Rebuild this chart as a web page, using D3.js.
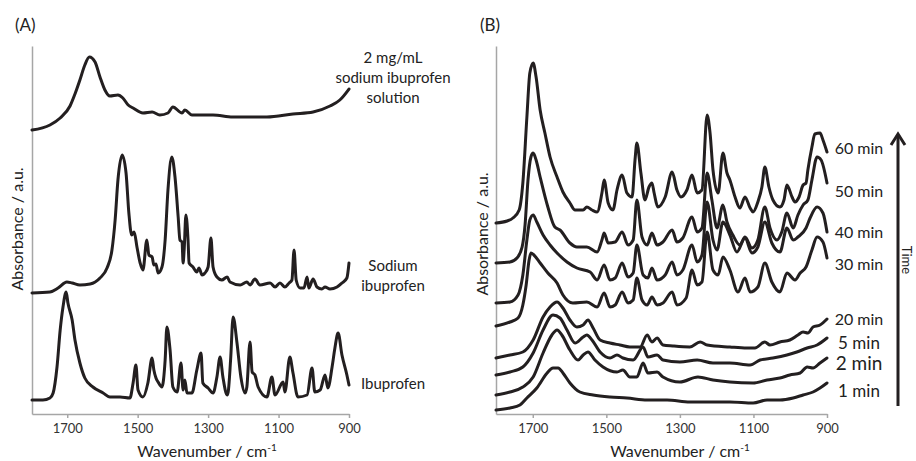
<!DOCTYPE html>
<html>
<head>
<meta charset="utf-8">
<script src="https://cdn.jsdelivr.net/npm/d3@7/dist/d3.min.js"></script>
<style>
    body { margin: 0; background: #fff; }
    svg { display: block; font-family: Lato, "Open Sans", sans-serif; }
</style>
</head>
<body>
<svg id="chart" width="916" height="461"></svg>
<script>
// wavenumber (cm-1), absorbance (a.u., stacked offsets as plotted)
var xTicks = [1700, 1500, 1300, 1100, 900]

// panel A
var solution2mg = [[1800,2.84],[1749,2.89],[1720,2.96],[1692,3.08],[1678,3.2],[1664,3.34],[1650,3.49],[1637,3.57],[1621,3.52],[1607,3.37],[1593,3.24],[1579,3.18],[1556,3.19],[1542,3.16],[1527,3.09],[1513,3.06],[1485,3.01],[1459,3.02],[1437,2.99],[1414,3.01],[1400,3.07],[1374,3.01],[1366,3.04],[1346,2.99],[1286,2.99],[1230,2.97],[1133,2.97],[1059,3.00],[1002,3.02],[954,3.08],[926,3.14],[900,3.25]]
var sodiumIbuprofen = [[1800,1.21],[1749,1.22],[1726,1.26],[1701,1.32],[1686,1.31],[1664,1.29],[1635,1.30],[1607,1.36],[1587,1.46],[1573,1.64],[1564,1.94],[1556,2.34],[1544,2.59],[1533,2.41],[1525,2.01],[1517,1.79],[1510,1.82],[1502,1.67],[1493,1.51],[1485,1.44],[1474,1.74],[1468,1.59],[1459,1.57],[1454,1.49],[1448,1.50],[1442,1.41],[1431,1.47],[1422,1.74],[1414,2.24],[1403,2.57],[1394,2.37],[1385,1.97],[1380,1.74],[1374,1.72],[1371,1.51],[1368,1.64],[1363,1.99],[1357,1.74],[1354,1.51],[1343,1.47],[1332,1.42],[1326,1.46],[1317,1.39],[1309,1.41],[1300,1.47],[1292,1.76],[1286,1.47],[1275,1.37],[1261,1.34],[1246,1.37],[1238,1.32],[1209,1.29],[1190,1.32],[1181,1.29],[1167,1.35],[1153,1.29],[1124,1.31],[1110,1.27],[1096,1.31],[1082,1.27],[1070,1.31],[1062,1.34],[1056,1.64],[1050,1.34],[1039,1.26],[1028,1.26],[1019,1.37],[1014,1.26],[1002,1.35],[991,1.27],[977,1.25],[968,1.27],[954,1.25],[934,1.27],[920,1.31],[906,1.36],[900,1.51]]
var ibuprofen = [[1800,0.14],[1769,0.14],[1749,0.16],[1740,0.21],[1729,0.47],[1720,0.84],[1712,1.07],[1703,1.22],[1698,1.11],[1686,0.94],[1678,0.74],[1664,0.51],[1650,0.36],[1627,0.27],[1598,0.21],[1579,0.17],[1550,0.17],[1522,0.16],[1513,0.31],[1505,0.49],[1499,0.24],[1485,0.17],[1471,0.31],[1459,0.56],[1454,0.44],[1448,0.36],[1442,0.32],[1431,0.27],[1422,0.54],[1417,0.87],[1408,0.64],[1400,0.27],[1388,0.22],[1377,0.51],[1371,0.24],[1366,0.34],[1360,0.21],[1346,0.21],[1332,0.44],[1320,0.61],[1315,0.31],[1300,0.26],[1286,0.21],[1275,0.37],[1266,0.57],[1258,0.37],[1246,0.19],[1243,0.22],[1236,0.55],[1229,0.97],[1218,0.71],[1207,0.37],[1195,0.21],[1190,0.27],[1181,0.72],[1175,0.42],[1167,0.39],[1158,0.27],[1133,0.17],[1119,0.37],[1110,0.19],[1087,0.32],[1082,0.22],[1068,0.57],[1059,0.41],[1045,0.17],[1019,0.19],[1005,0.46],[997,0.22],[982,0.24],[968,0.39],[960,0.26],[948,0.47],[940,0.66],[931,0.81],[920,0.59],[906,0.39],[900,0.29]]
var labelsA = [["2 mg/mL", "sodium ibuprofen", "solution"], ["Sodium", "ibuprofen"], ["Ibuprofen"]]

// panel B
var t60 = [[1800,1.91],[1770,1.93],[1754,1.96],[1737,2.04],[1727,2.31],[1716,2.97],[1708,3.41],[1699,3.51],[1691,3.37],[1680,3.04],[1667,2.81],[1653,2.57],[1634,2.37],[1618,2.22],[1599,2.11],[1585,2.04],[1563,2.04],[1553,2.07],[1539,2.04],[1525,2.02],[1512,2.21],[1506,2.34],[1495,2.11],[1482,2.04],[1471,2.24],[1457,2.39],[1444,2.21],[1430,2.17],[1422,2.54],[1417,2.71],[1406,2.41],[1395,2.14],[1384,2.27],[1376,2.31],[1370,2.21],[1360,2.07],[1340,2.17],[1321,2.42],[1308,2.24],[1297,2.17],[1281,2.24],[1267,2.39],[1253,2.21],[1240,2.24],[1226,2.99],[1218,2.81],[1210,2.44],[1196,2.21],[1183,2.61],[1172,2.41],[1164,2.34],[1150,2.17],[1137,2.06],[1123,2.17],[1109,2.06],[1101,2.02],[1088,2.12],[1077,2.27],[1069,2.47],[1058,2.27],[1047,2.14],[1028,2.07],[1017,2.14],[1009,2.29],[995,2.17],[987,2.12],[976,2.17],[965,2.29],[957,2.31],[952,2.44],[941,2.67],[933,2.80],[919,2.81],[911,2.74],[900,2.62]]
var t50 = [[1800,1.51],[1762,1.52],[1743,1.56],[1729,1.67],[1721,1.89],[1713,2.34],[1705,2.57],[1699,2.61],[1691,2.54],[1680,2.37],[1659,2.07],[1640,1.87],[1626,1.84],[1599,1.71],[1580,1.67],[1553,1.67],[1525,1.62],[1512,1.74],[1506,1.81],[1495,1.71],[1476,1.72],[1457,1.82],[1441,1.69],[1427,1.74],[1417,2.14],[1403,1.77],[1389,1.69],[1376,1.81],[1362,1.69],[1346,1.72],[1321,1.84],[1308,1.72],[1292,1.76],[1267,1.97],[1253,1.82],[1240,1.86],[1226,2.41],[1213,2.14],[1199,1.86],[1183,2.09],[1172,1.92],[1156,1.79],[1137,1.69],[1123,1.77],[1104,1.66],[1088,1.74],[1069,2.07],[1055,1.86],[1036,1.74],[1023,1.82],[1009,2.01],[992,1.86],[979,1.99],[965,2.09],[952,2.14],[941,2.34],[927,2.57],[916,2.54],[900,2.31]]
var t40 = [[1800,1.11],[1762,1.12],[1740,1.19],[1727,1.39],[1716,1.74],[1708,1.94],[1699,1.99],[1689,1.92],[1672,1.79],[1653,1.69],[1634,1.61],[1607,1.52],[1580,1.46],[1544,1.42],[1525,1.34],[1506,1.49],[1490,1.34],[1476,1.36],[1457,1.51],[1441,1.37],[1427,1.41],[1417,1.69],[1400,1.39],[1387,1.36],[1376,1.46],[1362,1.34],[1340,1.39],[1321,1.52],[1308,1.39],[1292,1.44],[1267,1.69],[1253,1.52],[1240,1.59],[1226,2.12],[1210,1.74],[1199,1.64],[1183,1.92],[1164,1.79],[1145,1.62],[1123,1.76],[1104,1.61],[1088,1.67],[1069,1.92],[1050,1.71],[1028,1.62],[1009,1.86],[992,1.74],[979,1.77],[957,1.86],[946,1.96],[927,2.07],[911,2.01],[900,1.82]]
var t30 = [[1800,0.88],[1762,0.92],[1740,0.96],[1727,1.09],[1718,1.29],[1710,1.54],[1705,1.61],[1697,1.59],[1680,1.51],[1659,1.41],[1634,1.31],[1618,1.19],[1591,1.11],[1553,1.12],[1525,1.07],[1506,1.21],[1490,1.07],[1476,1.09],[1457,1.22],[1441,1.11],[1427,1.14],[1417,1.36],[1403,1.14],[1389,1.09],[1376,1.17],[1362,1.09],[1346,1.11],[1321,1.22],[1308,1.09],[1283,1.16],[1267,1.44],[1253,1.29],[1240,1.32],[1226,1.82],[1210,1.44],[1196,1.39],[1183,1.57],[1164,1.44],[1142,1.22],[1123,1.36],[1109,1.22],[1088,1.27],[1069,1.51],[1050,1.32],[1028,1.22],[1009,1.41],[987,1.34],[973,1.41],[957,1.47],[941,1.64],[927,1.77],[911,1.72],[900,1.56]]
var t20 = [[1800,0.56],[1762,0.59],[1727,0.62],[1699,0.74],[1672,0.97],[1653,1.07],[1634,1.12],[1618,1.06],[1599,0.94],[1580,0.87],[1563,0.89],[1550,0.94],[1536,0.86],[1517,0.74],[1490,0.71],[1463,0.69],[1436,0.67],[1408,0.67],[1389,0.79],[1376,0.72],[1362,0.76],[1346,0.69],[1319,0.68],[1273,0.67],[1245,0.72],[1226,0.69],[1164,0.67],[1118,0.66],[1096,0.66],[1069,0.72],[1055,0.69],[1028,0.72],[1001,0.74],[979,0.79],[965,0.82],[952,0.81],[938,0.87],[919,0.89],[900,0.95]]
var t5 = [[1800,0.39],[1762,0.42],[1727,0.47],[1699,0.61],[1672,0.84],[1645,0.99],[1626,0.96],[1607,0.84],[1585,0.71],[1563,0.77],[1553,0.79],[1539,0.74],[1517,0.62],[1490,0.56],[1471,0.59],[1455,0.56],[1427,0.54],[1400,0.67],[1387,0.57],[1362,0.59],[1346,0.54],[1300,0.52],[1253,0.54],[1210,0.51],[1164,0.51],[1109,0.49],[1082,0.54],[1047,0.56],[1009,0.59],[982,0.62],[954,0.66],[927,0.69],[900,0.76]]
var t2 = [[1800,0.19],[1762,0.22],[1727,0.27],[1699,0.37],[1672,0.61],[1648,0.79],[1634,0.84],[1621,0.79],[1599,0.64],[1577,0.54],[1563,0.59],[1550,0.62],[1531,0.54],[1509,0.47],[1471,0.42],[1455,0.44],[1436,0.37],[1417,0.37],[1400,0.51],[1387,0.41],[1362,0.42],[1346,0.37],[1300,0.32],[1251,0.37],[1210,0.34],[1164,0.32],[1101,0.31],[1063,0.34],[1028,0.36],[1001,0.39],[973,0.41],[954,0.47],[938,0.46],[919,0.51],[900,0.56]]
var t1 = [[1800,0.04],[1762,0.06],[1735,0.09],[1716,0.16],[1689,0.26],[1661,0.41],[1645,0.46],[1631,0.46],[1618,0.41],[1599,0.31],[1572,0.22],[1536,0.19],[1490,0.17],[1444,0.16],[1389,0.14],[1335,0.14],[1273,0.12],[1210,0.12],[1164,0.12],[1101,0.11],[1063,0.14],[1028,0.14],[992,0.16],[965,0.19],[938,0.22],[919,0.26],[900,0.31]]
var labelsB = ["60 min", "50 min", "40 min", "30 min", "20 min", "5 min", "2 min", "1 min"]

var svg = d3.select('#chart')
var ink = '#231f20'
var axisGrey = '#a6a6a6'
var yTop = 46, yBottom = 414

function drawPanel(p) {
    var x = d3.scaleLinear().domain([1800, 900]).range(p.xr)
    var y = d3.scaleLinear().domain([0, 3.68]).range([yBottom, yTop])
    var g = svg.append('g')

    // axes
    var ax = g.append('g')
        .attr('transform', `translate(0,${yBottom})`)
        .call(d3.axisBottom(x).tickValues(xTicks).tickFormat(d3.format('d')).tickSize(4).tickSizeOuter(0).tickPadding(6))
    ax.selectAll('path,line').attr('stroke', axisGrey).attr('stroke-width', 1.5)
    ax.selectAll('text').attr('font-size', 13).attr('fill', '#333').attr('font-family', 'Lato, sans-serif')
    var ay = g.append('g')
        .attr('transform', `translate(${p.xr[0]},0)`)
        .call(d3.axisLeft(y).tickValues([]).tickSizeOuter(0))
    ay.selectAll('path').attr('stroke', axisGrey).attr('stroke-width', 1.5)

    var line = d3.line()
        .x(d => x(d[0]))
        .y(d => y(d[1]))
        .curve(d3.curveMonotoneX)
    g.selectAll('path.spec')
        .data(p.series)
        .join('path')
        .attr('class', 'spec')
        .attr('d', line)
        .attr('fill', 'none')
        .attr('stroke', ink)
        .attr('stroke-width', 3)
        .attr('stroke-linejoin', 'round')
        .attr('stroke-linecap', 'round')

    // titles
    g.append('text')
        .attr('x', p.titleX).attr('y', 31)
        .attr('font-size', 17).attr('fill', '#222')
        .text(p.name)
    var xt = g.append('text')
        .attr('x', p.xTitleX).attr('y', 457)
        .attr('text-anchor', 'middle')
        .attr('font-size', 16).attr('fill', '#222')
    xt.append('tspan').text('Wavenumber / cm')
    xt.append('tspan').attr('dy', -6).attr('font-size', 10).text('-1')
    g.append('text')
        .attr('transform', `translate(${p.yTitleX},${p.yTitleY}) rotate(-90)`)
        .attr('text-anchor', 'middle')
        .attr('font-size', 16).attr('fill', '#222')
        .text('Absorbance / a.u.')
}

drawPanel({ name: '(A)', xr: [32, 349], series: [solution2mg, sodiumIbuprofen, ibuprofen], titleX: 15, xTitleX: 207, yTitleX: 23, yTitleY: 229 })
drawPanel({ name: '(B)', xr: [496, 827], series: [t60, t50, t40, t30, t20, t5, t2, t1], titleX: 480, xTitleX: 680, yTitleX: 488, yTitleY: 234 })

// curve labels, panel A
var baseA = [63, 271, 389]
labelsA.forEach((lines, i) => {
    svg.append('text')
        .attr('x', 393).attr('y', baseA[i])
        .attr('text-anchor', 'middle')
        .attr('font-size', 15).attr('fill', '#222')
        .selectAll('tspan')
        .data(lines)
        .join('tspan')
        .attr('x', 393)
        .attr('dy', (d, j) => j == 0 ? 0 : 20)
        .text(d => d)
})

// curve labels, panel B
var baseB = [154, 197, 238, 270, 325, 349, 370, 397]
var sizeB = [16, 16, 16, 16, 16, 17, 19, 17]
labelsB.forEach((t, i) => {
    svg.append('text')
        .attr('x', 859).attr('y', baseB[i])
        .attr('text-anchor', 'middle')
        .attr('font-size', sizeB[i]).attr('fill', '#222')
        .text(t)
})

// time arrow
svg.append('line')
    .attr('x1', 898).attr('x2', 898).attr('y1', 406).attr('y2', 135)
    .attr('stroke', ink).attr('stroke-width', 3)
svg.append('path')
    .attr('d', 'M891,145 L898,134 L905,145')
    .attr('fill', 'none').attr('stroke', ink).attr('stroke-width', 3)
    .attr('stroke-linejoin', 'miter')
svg.append('text')
    .attr('transform', 'translate(902,260) rotate(90)')
    .attr('text-anchor', 'middle')
    .attr('font-size', 13).attr('fill', '#222')
    .text('Time')
</script>
</body>
</html>
